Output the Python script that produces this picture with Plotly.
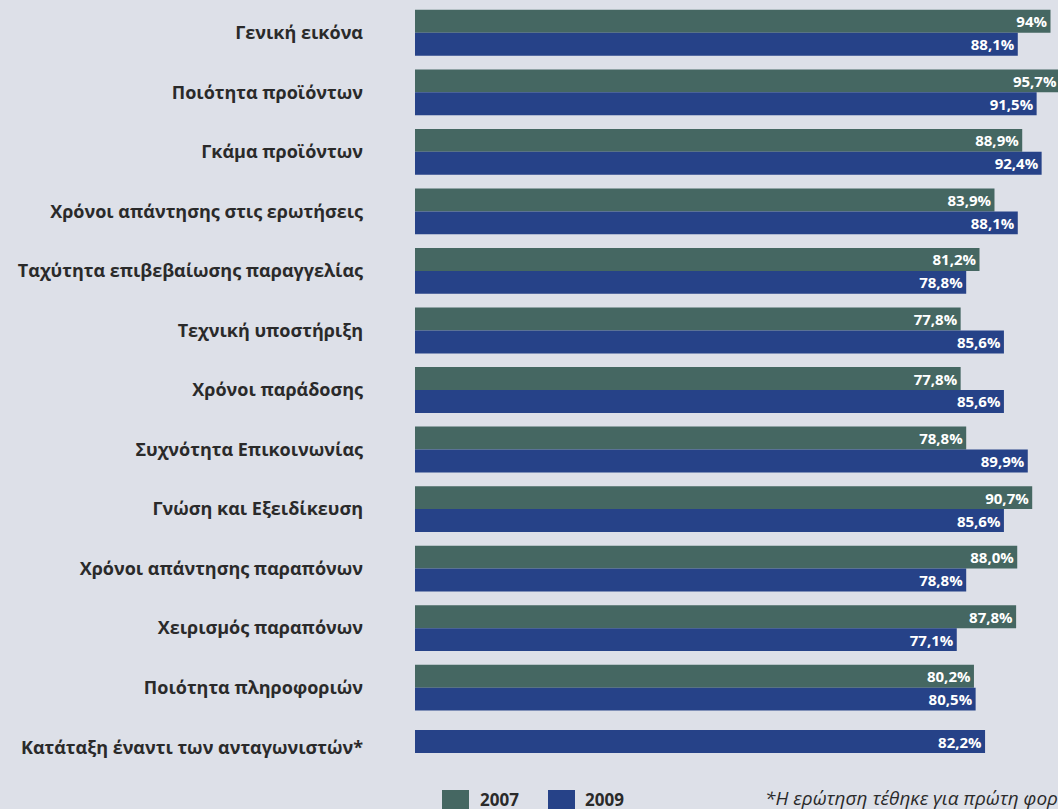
import plotly.graph_objects as go

# ---- data ----
categories = [
    "Γενική εικόνα",
    "Ποιότητα προϊόντων",
    "Γκάμα προϊόντων",
    "Χρόνοι απάντησης στις ερωτήσεις",
    "Ταχύτητα επιβεβαίωσης παραγγελίας",
    "Τεχνική υποστήριξη",
    "Χρόνοι παράδοσης",
    "Συχνότητα Επικοινωνίας",
    "Γνώση και Εξειδίκευση",
    "Χρόνοι απάντησης παραπόνων",
    "Χειρισμός παραπόνων",
    "Ποιότητα πληροφοριών",
    "Κατάταξη έναντι των ανταγωνιστών*",
]
values_2007 = [94, 95.7, 88.9, 83.9, 81.2, 77.8, 77.8, 78.8, 90.7, 88.0, 87.8, 80.2, None]
values_2009 = [88.1, 91.5, 92.4, 88.1, 78.8, 85.6, 85.6, 89.9, 85.6, 78.8, 77.1, 80.5, 82.2]
series_names = ["2007", "2009"]
footnote = "*Η ερώτηση τέθηκε για πρώτη φορά"

# ---- style ----
BG = "#dde0e8"
GREEN = "#456762"
BLUE = "#264288"
TEXT = "#2a2a2a"
FONT = "Open Sans"
AXIS_MIN, AXIS_MAX = -20.57, 95.35   # truncated value axis, as in the original
W = 0.385                            # bar thickness (category units)

W_PX, H_PX = 1058, 809
ML, MR, MT, MB = 415, 0, 3, 32


def fmt(v):
    if v is None:
        return ""
    if isinstance(v, int):
        return f"{v}%"
    return f"{v:.1f}".replace(".", ",") + "%"


def lengths(vals):
    return [None if v is None else v - AXIS_MIN for v in vals]


txt_font = dict(color="white", size=15, family=FONT, weight="bold")

fig = go.Figure()
fig.add_trace(go.Bar(
    name=series_names[0], orientation="h", y=categories,
    x=lengths(values_2007), base=AXIS_MIN,
    width=W, offset=-W,
    marker=dict(color=GREEN, line=dict(width=0)),
    text=[fmt(v) for v in values_2007],
    textposition="inside", insidetextanchor="end", textangle=0,
    constraintext="none", textfont=txt_font,
    hoverinfo="skip", showlegend=False,
))
fig.add_trace(go.Bar(
    name=series_names[1], orientation="h", y=categories,
    x=lengths(values_2009), base=AXIS_MIN,
    width=W, offset=[0 if a is not None else -W * 0.75 for a in values_2007],
    marker=dict(color=BLUE, line=dict(width=0)),
    text=[fmt(v) for v in values_2009],
    textposition="inside", insidetextanchor="end", textangle=0,
    constraintext="none", textfont=txt_font,
    hoverinfo="skip", showlegend=False,
))

plot_w = W_PX - ML - MR
plot_h = H_PX - MT - MB


def px_x(p):
    return (p - ML) / plot_w


def px_y(p):
    return (H_PX - MB - p) / plot_h


# manual legend + footnote
shapes = []
annotations = []
for (x0, x1, color, label, tx) in [(442, 469, GREEN, series_names[0], 478),
                                    (548, 575, BLUE, series_names[1], 583)]:
    shapes.append(dict(type="rect", xref="paper", yref="paper",
                       x0=px_x(x0), x1=px_x(x1), y0=px_y(790), y1=px_y(815),
                       fillcolor=color, line=dict(width=0)))
    annotations.append(dict(xref="paper", yref="paper", x=px_x(tx), y=px_y(799),
                            xanchor="left", yanchor="middle", showarrow=False,
                            text=label, font=dict(size=17, color=TEXT, family=FONT, weight="bold")))
annotations.append(dict(xref="paper", yref="paper", x=px_x(763), y=px_y(798),
                        xanchor="left", yanchor="middle", showarrow=False,
                        text=f"<i>{footnote}</i>",
                        font=dict(size=19, color=TEXT, family=FONT)))

fig.update_layout(
    width=W_PX, height=H_PX,
    paper_bgcolor=BG, plot_bgcolor=BG,
    margin=dict(l=ML, r=MR, t=MT, b=MB),
    barmode="overlay",
    xaxis=dict(range=[AXIS_MIN, AXIS_MAX], visible=False, showgrid=False, zeroline=False),
    yaxis=dict(type="category", range=[len(categories) - 0.5, -0.5],
               showgrid=False, zeroline=False, showline=False, ticks="",
               ticklabelstandoff=51,
               tickfont=dict(size=18, color=TEXT, family=FONT, weight="bold")),
    shapes=shapes, annotations=annotations,
    font=dict(family=FONT),
)

fig.write_html(
    "out.html",
    config={"displayModeBar": False},
    post_script="document.body.style.margin='0';document.body.style.overflow='hidden';"
                "document.body.style.background='" + BG + "';",
)
